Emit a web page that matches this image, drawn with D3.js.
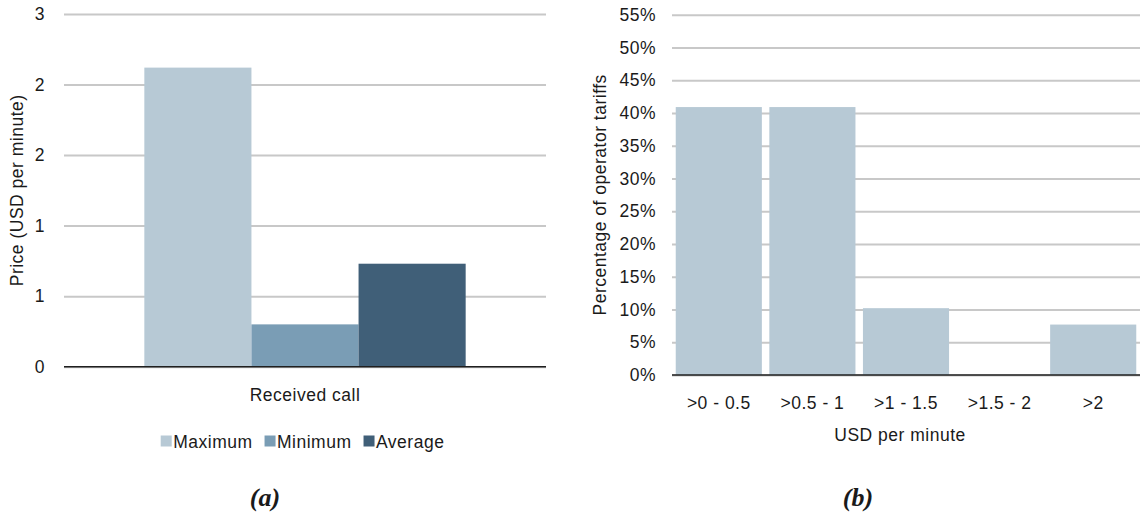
<!DOCTYPE html>
<html>
<head>
<meta charset="utf-8">
<script src="https://cdn.jsdelivr.net/npm/d3@7/dist/d3.min.js"></script>
<style>
  html, body { margin: 0; padding: 0; background: #fff; }
  svg text { font-family: "Liberation Sans", Arial, sans-serif; fill: #1a1a1a; }
</style>
</head>
<body>
<svg id="chart" width="1141" height="512"></svg>
<script>
// Panel (a): price of a received call
const priceCategories = ["Received call"];
const priceSeries = ["Maximum", "Minimum", "Average"];
const priceValues = [2.12, 0.30, 0.73];
const priceTicks = [0, 0.5, 1, 1.5, 2, 2.5];
const priceColors = ["#b7c9d5", "#7a9db5", "#405f78"];

// Panel (b): distribution of operator tariffs
const tariffBins = [">0 - 0.5", ">0.5 - 1", ">1 - 1.5", ">1.5 - 2", ">2"];
const tariffShares = [0.409, 0.409, 0.102, 0, 0.077];
const tariffTicks = [0, 0.05, 0.10, 0.15, 0.20, 0.25, 0.30, 0.35, 0.40, 0.45, 0.50, 0.55];

const svg = d3.select("#chart");
const FONT = 17.5;
const LS = "0.5px";
const gridColor = "#c8c8c8";

// ---------- Panel (a) ----------
const a = { left: 64, right: 546, top: 14, bottom: 366.7 };
const ya = d3.scaleLinear().domain([0, 2.5]).range([a.bottom, a.top]);
const xa = d3.scaleBand().domain(priceCategories).range([a.left, a.right])
  .paddingInner(0).paddingOuter(0.25);
const xs = d3.scaleBand().domain(priceSeries).range([0, xa.bandwidth()]).padding(0);

const ga = svg.append("g");
// grid + tick labels; values are shown rounded to whole numbers (half up)
const yAxisA = d3.axisLeft(ya).tickValues(priceTicks)
  .tickSize(-(a.right - a.left)).tickPadding(19)
  .tickFormat(d => String(Math.floor(d + 0.5)));
const gya = ga.append("g").attr("transform", `translate(${a.left},0)`).call(yAxisA);
gya.select(".domain").remove();
gya.selectAll(".tick line").attr("stroke", gridColor).attr("stroke-width", 2);
gya.selectAll(".tick text").attr("font-size", FONT).attr("letter-spacing", LS).attr("fill", "#1a1a1a");

ga.append("g").selectAll("rect")
  .data(priceValues.map((v, i) => ({ s: priceSeries[i], v, c: priceColors[i] })))
  .join("rect")
  .attr("x", d => xa(priceCategories[0]) + xs(d.s))
  .attr("width", xs.bandwidth())
  .attr("y", d => ya(d.v))
  .attr("height", d => ya(0) - ya(d.v))
  .attr("fill", d => d.c);

ga.append("line")
  .attr("x1", a.left).attr("x2", a.right)
  .attr("y1", ya(0)).attr("y2", ya(0))
  .attr("stroke", "#1f1f1f").attr("stroke-width", 1.5);

ga.append("text")
  .attr("x", xa(priceCategories[0]) + xa.bandwidth() / 2).attr("y", 395)
  .attr("text-anchor", "middle").attr("dominant-baseline", "central")
  .attr("font-size", FONT).attr("letter-spacing", LS)
  .text(priceCategories[0]);

ga.append("text")
  .attr("transform", `translate(17,${(a.top + a.bottom) / 2}) rotate(-90)`)
  .attr("text-anchor", "middle").attr("dominant-baseline", "central")
  .attr("font-size", FONT).attr("letter-spacing", LS)
  .text("Price (USD per minute)");

// legend
const legend = ga.append("g");
let lx = 160.7;
priceSeries.forEach((s, i) => {
  legend.append("rect").attr("x", lx).attr("y", 435.5).attr("width", 11).attr("height", 11)
    .attr("fill", priceColors[i]);
  const t = legend.append("text").attr("x", lx + 12.5).attr("y", 441.5)
    .attr("dominant-baseline", "central")
    .attr("font-size", FONT).attr("letter-spacing", LS).text(s);
  lx += 12.5 + t.node().getComputedTextLength() + 12;
});

svg.append("text")
  .attr("x", 265).attr("y", 497)
  .attr("text-anchor", "middle").attr("dominant-baseline", "central")
  .style("font-family", "'Liberation Serif', 'Times New Roman', serif")
  .attr("font-size", 26).attr("font-weight", "bold").attr("font-style", "italic")
  .text("(a)");

// ---------- Panel (b) ----------
const b = { left: 672, right: 1140, top: 14.7, bottom: 375 };
const yb = d3.scaleLinear().domain([0, 0.55]).range([b.bottom, b.top]);
const xb = d3.scaleBand().domain(tariffBins).range([b.left, b.right])
  .paddingInner(0.08).paddingOuter(0.04);

const gb = svg.append("g");
const yAxisB = d3.axisLeft(yb).tickValues(tariffTicks)
  .tickSize(-(b.right - b.left)).tickPadding(16)
  .tickFormat(d3.format(".0%"));
const gyb = gb.append("g").attr("transform", `translate(${b.left},0)`).call(yAxisB);
gyb.select(".domain").remove();
gyb.selectAll(".tick line").attr("stroke", gridColor).attr("stroke-width", 2);
gyb.selectAll(".tick text").attr("font-size", FONT).attr("letter-spacing", LS).attr("fill", "#1a1a1a");

gb.append("g").selectAll("rect")
  .data(tariffBins.map((k, i) => ({ k, v: tariffShares[i] })))
  .join("rect")
  .attr("x", d => xb(d.k))
  .attr("width", xb.bandwidth())
  .attr("y", d => yb(d.v))
  .attr("height", d => yb(0) - yb(d.v))
  .attr("fill", "#b7c9d5");

gb.append("line")
  .attr("x1", b.left).attr("x2", b.right)
  .attr("y1", yb(0)).attr("y2", yb(0))
  .attr("stroke", "#1f1f1f").attr("stroke-width", 1.5);

const xAxisB = d3.axisBottom(xb).tickSize(0).tickPadding(0);
const gxb = gb.append("g").attr("transform", `translate(0,${b.bottom})`).call(xAxisB);
gxb.select(".domain").remove();
gxb.selectAll(".tick text")
  .attr("y", 28).attr("dy", null).attr("dominant-baseline", "central")
  .attr("font-size", FONT).attr("letter-spacing", LS).attr("fill", "#1a1a1a");

gb.append("text")
  .attr("x", (b.left + b.right) / 2 - 6).attr("y", 435)
  .attr("text-anchor", "middle").attr("dominant-baseline", "central")
  .attr("font-size", FONT).attr("letter-spacing", LS)
  .text("USD per minute");

gb.append("text")
  .attr("transform", `translate(600,${(b.top + b.bottom) / 2}) rotate(-90)`)
  .attr("text-anchor", "middle").attr("dominant-baseline", "central")
  .attr("font-size", FONT).attr("letter-spacing", LS)
  .text("Percentage of operator tariffs");

svg.append("text")
  .attr("x", 858).attr("y", 497)
  .attr("text-anchor", "middle").attr("dominant-baseline", "central")
  .style("font-family", "'Liberation Serif', 'Times New Roman', serif")
  .attr("font-size", 26).attr("font-weight", "bold").attr("font-style", "italic")
  .text("(b)");
</script>
</body>
</html>
